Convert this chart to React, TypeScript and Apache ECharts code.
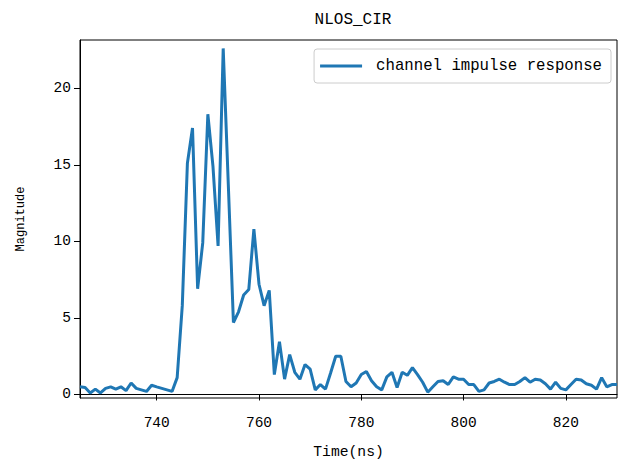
import React, { useEffect, useRef } from "react";
import * as echarts from "echarts";

const times = [
  725, 726, 727, 728, 729, 730, 731, 732, 733, 734, 735, 736, 737, 738, 739, 740, 741, 742, 743, 744,
  745, 746, 747, 748, 749, 750, 751, 752, 753, 754, 755, 756, 757, 758, 759, 760, 761, 762, 763, 764,
  765, 766, 767, 768, 769, 770, 771, 772, 773, 774, 775, 776, 777, 778, 779, 780, 781, 782, 783, 784,
  785, 786, 787, 788, 789, 790, 791, 792, 793, 794, 795, 796, 797, 798, 799, 800, 801, 802, 803, 804,
  805, 806, 807, 808, 809, 810, 811, 812, 813, 814, 815, 816, 817, 818, 819, 820, 821, 822, 823, 824,
  825, 826, 827, 828, 829, 830,
];

const magnitude = [
  0.5, 0.45, 0.1, 0.35, 0.1, 0.4, 0.5, 0.35, 0.5, 0.25, 0.75, 0.4, 0.3, 0.2, 0.6, 0.5, 0.4, 0.3, 0.2, 1.1,
  5.8, 15.1, 17.4, 6.9, 9.9, 18.3, 14.9, 9.7, 22.6, 13.7, 4.7, 5.4, 6.5, 6.85, 10.8, 7.2, 5.8, 6.8, 1.3, 3.45,
  1.0, 2.6, 1.45, 1.0, 1.95, 1.65, 0.3, 0.65, 0.35, 1.4, 2.5, 2.5, 0.85, 0.5, 0.75, 1.3, 1.5, 0.9, 0.5, 0.3,
  1.15, 1.45, 0.45, 1.45, 1.25, 1.75, 1.3, 0.8, 0.15, 0.5, 0.85, 0.9, 0.65, 1.15, 1.0, 1.0, 0.65, 0.65, 0.2, 0.3,
  0.75, 0.85, 1.0, 0.8, 0.65, 0.65, 0.85, 1.1, 0.8, 1.0, 0.95, 0.7, 0.35, 0.8, 0.4, 0.3, 0.65, 1.0, 0.95, 0.7,
  0.6, 0.35, 1.1, 0.5, 0.65, 0.65,
];

const xTicks = [740, 760, 780, 800, 820];
const yTicks = [0, 5, 10, 15, 20];

const titleText = "NLOS_CIR";
const seriesName = "channel impulse response";
const xName = "Time(ns)";
const yName = "Magnitude";

const FONT = "'Liberation Mono', 'DejaVu Sans Mono', monospace";

export default function App() {
  const ref = useRef<HTMLDivElement>(null);

  useEffect(() => {
    if (!ref.current) return;
    const chart = echarts.init(ref.current, undefined, { renderer: "svg" });
    const data = times.map((t, i) => [t, magnitude[i]]);
    chart.setOption({
      animation: false,
      backgroundColor: "#ffffff",
      title: {
        text: titleText,
        left: 348,
        textAlign: "center",
        top: 7,
        textStyle: { fontFamily: FONT, fontSize: 16, fontWeight: "normal", color: "#000" },
      },
      legend: {
        top: 49,
        right: 13,
        icon: "rect",
        itemWidth: 42,
        itemHeight: 3,
        padding: [9, 9, 9, 6],
        borderColor: "#cccccc",
        borderWidth: 1,
        borderRadius: 3,
        backgroundColor: "#ffffff",
        textStyle: { fontFamily: FONT, fontSize: 15.7, color: "#000", padding: [0, 0, 0, 9] },
        data: [seriesName],
      },
      grid: {
        left: 80,
        right: 7,
        top: 40,
        bottom: 65.5,
        show: true,
        borderColor: "#000",
        borderWidth: 1,
        containLabel: false,
      },
      xAxis: {
        type: "value",
        min: 725,
        max: 830,
        name: xName,
        nameLocation: "middle",
        nameGap: 46,
        nameTextStyle: { fontFamily: FONT, fontSize: 14.7, color: "#000" },
        axisLine: { show: true, lineStyle: { color: "#000", width: 1 } },
        axisTick: { show: true, length: 6, lineStyle: { color: "#000", width: 1 }, customValues: xTicks },
        axisLabel: { fontFamily: FONT, fontSize: 14.5, color: "#000", margin: 17, customValues: xTicks },
        splitLine: { show: false },
      },
      yAxis: {
        type: "value",
        min: -0.23,
        max: 23.15,
        name: yName,
        nameLocation: "middle",
        nameGap: 53,
        nameRotate: 90,
        nameTextStyle: { fontFamily: FONT, fontSize: 12, color: "#000" },
        axisLine: { show: true, lineStyle: { color: "#000", width: 1 } },
        axisTick: { show: true, length: 6, lineStyle: { color: "#000", width: 1 }, customValues: yTicks },
        axisLabel: { fontFamily: FONT, fontSize: 14.5, color: "#000", margin: 9, customValues: yTicks },
        splitLine: { show: false },
      },
      series: [
        {
          name: seriesName,
          type: "line",
          data,
          showSymbol: false,
          symbol: "none",
          lineStyle: { color: "#1f77b4", width: 3 },
          itemStyle: { color: "#1f77b4" },
        },
      ],
    });
    return () => chart.dispose();
  }, []);

  return <div ref={ref} style={{ width: 624, height: 464, position: "absolute", left: 0, top: 0 }} />;
}
